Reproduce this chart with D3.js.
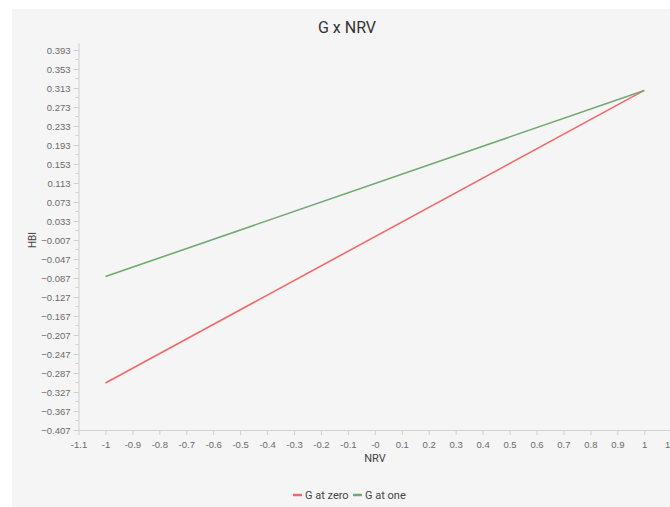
<!DOCTYPE html>
<html>
<head>
<meta charset="utf-8">
<script src="https://cdn.jsdelivr.net/npm/d3@7"></script>
<style>
  body { margin: 0; background: #fff; }
  svg { display: block; font-family: Roboto, "Open Sans", sans-serif; }
</style>
</head>
<body>
<div id="viz"></div>
<script>
// data
const nrv = [-1, 1];
const gAtZero = [-0.308, 0.308];
const gAtOne = [-0.084, 0.308];
const seriesNames = ["G at zero", "G at one"];
const seriesColors = ["#ee6b6b", "#72a872"];
const xTicks = [-1.1, -1, -0.9, -0.8, -0.7, -0.6, -0.5, -0.4, -0.3, -0.2, -0.1, 0, 0.1, 0.2, 0.3, 0.4, 0.5, 0.6, 0.7, 0.8, 0.9, 1, 1.1];
const xTickLabels = ["-1.1", "-1", "-0.9", "-0.8", "-0.7", "-0.6", "-0.5", "-0.4", "-0.3", "-0.2", "-0.1", "-0", "0.1", "0.2", "0.3", "0.4", "0.5", "0.6", "0.7", "0.8", "0.9", "1", "1.1"];
const yTicks = [-0.407, -0.367, -0.327, -0.287, -0.247, -0.207, -0.167, -0.127, -0.087, -0.047, -0.007, 0.033, 0.073, 0.113, 0.153, 0.193, 0.233, 0.273, 0.313, 0.353, 0.393];
const yMinorTicks = yTicks.slice(0, -1).map(d => d + 0.02);

const width = 670, height = 507;

const svg = d3.select("#viz").append("svg")
    .attr("width", width)
    .attr("height", height);

// grey panel
svg.append("rect")
    .attr("x", 12)
    .attr("y", 9)
    .attr("width", 700)
    .attr("height", 520)
    .attr("fill", "#f5f5f5");

const x = d3.scaleLinear()
    .domain([-1.1, 1.1])
    .range([78.5, 671.2]);

const y = d3.scaleLinear()
    .domain([-0.407, 0.408])
    .range([430, 42.9]);

// y axis
const yAxis = d3.axisLeft(y)
    .tickValues(yTicks)
    .tickFormat(d3.format(".3f"))
    .tickSize(5)
    .tickSizeOuter(0);

const gy = svg.append("g")
    .attr("transform", "translate(78.5, 0)")
    .call(yAxis);

gy.selectAll(".minor")
    .data(yMinorTicks)
    .enter()
    .append("line")
    .attr("class", "minor")
    .attr("x1", -3)
    .attr("x2", 0)
    .attr("y1", d => y(d))
    .attr("y2", d => y(d));

// x axis
const xAxis = d3.axisBottom(x)
    .tickValues(xTicks)
    .tickFormat((d, i) => xTickLabels[i])
    .tickSize(5)
    .tickSizeOuter(0);

const gx = svg.append("g")
    .attr("transform", "translate(0, 430)")
    .call(xAxis);

svg.selectAll(".domain, .tick line, .minor")
    .attr("stroke", "#d0d0d0");
svg.selectAll(".tick text")
    .attr("fill", "#6b6b6b")
    .style("font-size", "9.5px");
gx.selectAll(".tick text").attr("dy", "1.1em");

// lines
const line = d3.line()
    .x((d, i) => x(nrv[i]))
    .y(d => y(d));

[gAtZero, gAtOne].forEach((s, i) => {
    svg.append("path")
        .datum(s)
        .attr("d", line)
        .attr("fill", "none")
        .attr("stroke", seriesColors[i])
        .attr("stroke-width", 1.6);
});

// titles
svg.append("text")
    .attr("x", 347)
    .attr("y", 33)
    .attr("text-anchor", "middle")
    .attr("fill", "#333")
    .style("font-size", "16px")
    .text("G x NRV");

svg.append("text")
    .attr("x", 375)
    .attr("y", 462)
    .attr("text-anchor", "middle")
    .attr("fill", "#444")
    .style("font-size", "11px")
    .text("NRV");

svg.append("text")
    .attr("transform", "translate(36, 240) rotate(-90)")
    .attr("text-anchor", "middle")
    .attr("fill", "#444")
    .style("font-size", "10px")
    .text("HBI");

// legend
const legend = svg.append("g")
    .attr("transform", "translate(293, 495)");

const legendX = [0, 60];
seriesNames.forEach((name, i) => {
    const g = legend.append("g").attr("transform", `translate(${legendX[i]}, 0)`);
    g.append("line")
        .attr("x1", 0)
        .attr("x2", 9)
        .attr("stroke", seriesColors[i])
        .attr("stroke-width", 2.5);
    g.append("text")
        .attr("x", 12)
        .attr("dy", "0.35em")
        .attr("fill", "#444")
        .style("font-size", "11px")
        .text(name);
});
</script>
</body>
</html>
